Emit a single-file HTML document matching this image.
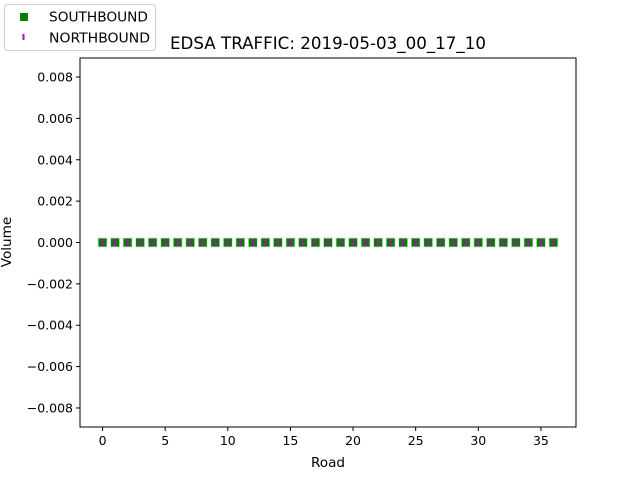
<!DOCTYPE html>
<html><head><meta charset="utf-8"><style>
body{margin:0;background:#fff;font-family:"Liberation Sans","DejaVu Sans",sans-serif}
</style></head><body>
<svg id="chart" width="640" height="480" xmlns="http://www.w3.org/2000/svg" font-family="'DejaVu Sans','Liberation Sans',sans-serif">
<rect width="640" height="480" fill="#fff"/>
<text x="328" y="49" font-size="16.6" text-anchor="middle" textLength="316" lengthAdjust="spacingAndGlyphs">EDSA TRAFFIC: 2019-05-03_00_17_10</text>
<g id="ticks"></g>
<g id="marks"></g>
<rect x="80" y="58" width="496" height="369" fill="none" stroke="#000" stroke-width="1"/>
<text x="328" y="467" font-size="13.6" text-anchor="middle">Road</text>
<text transform="translate(11,242) rotate(-90)" font-size="13.6" text-anchor="middle">Volume</text>
<g>
<rect x="4.5" y="4.5" width="151" height="46" rx="3" fill="#fff" stroke="#ccc"/>
<rect x="20" y="13" width="8" height="8" fill="#008000"/>
<text x="49" y="21.5" font-size="13.6" textLength="99" lengthAdjust="spacingAndGlyphs">SOUTHBOUND</text>
<rect x="22.5" y="34" width="2" height="6" fill="#bf00bf"/>
<text x="49" y="42.5" font-size="13.6" textLength="101" lengthAdjust="spacingAndGlyphs">NORTHBOUND</text>
</g>
</svg>
<script>
const roads = Array.from({length:37},(_,i)=>i);
const southbound = [0,0,0,0,0,0,0,0,0,0,0,0,0,0,0,0,0,0,0,0,0,0,0,0,0,0,0,0,0,0,0,0,0,0,0,0,0];
const northbound = [0,0,0,0,0,0,0,0,0,0,0,0,0,0,0,0,0,0,0,0,0,0,0,0,0,0,0,0,0,0,0,0,0,0,0,0,0];
const xTicks = [0,5,10,15,20,25,30,35];
const yTicks = [-0.008,-0.006,-0.004,-0.002,0,0.002,0.004,0.006,0.008];
const NS="http://www.w3.org/2000/svg";
const L=80,R=576,T=58,B=427;
const xMin=-1.8,xMax=37.8,yMin=-0.00892,yMax=0.00892;
const xs=v=>L+(v-xMin)/(xMax-xMin)*(R-L);
const ys=v=>B-(v-yMin)/(yMax-yMin)*(B-T);
function mk(tag,a,p){const e=document.createElementNS(NS,tag);for(const k in a)e.setAttribute(k,a[k]);p.appendChild(e);return e;}
const tg=document.getElementById('ticks');
xTicks.forEach(v=>{
 const x=xs(v);
 const l=mk('line',{x1:x,x2:x,y1:B,y2:B+4,stroke:'#000'},tg);
 
 
 const t=mk('text',{x:x,y:B+18,'font-size':12.5,'text-anchor':'middle'},tg);
 
 
 t.textContent=v;
});
yTicks.forEach(v=>{
 const y=ys(v);
 const l=mk('line',{x1:L-4,x2:L,y1:y,y2:y,stroke:'#000'},tg);
 
 
 const t=mk('text',{x:L-7,y:y+4.5,'font-size':12.5,'text-anchor':'end'},tg);
 
 
 t.textContent=(v<0?'\u2212':'')+Math.abs(v).toFixed(3);
});
const mg=document.getElementById('marks');
roads.forEach((r,i)=>{
 const x=xs(r),y=ys(southbound[i]);
 const s=mk('rect',{x:x-4.5,y:y-4.5,width:9,height:9,fill:'#008000',stroke:'#cfe7cf','stroke-width':0.8},mg);
 
 
});
roads.forEach((r,i)=>{
 const x=xs(r),y=ys(northbound[i]);
 const n=mk('rect',{x:x-1,y:y-3.5,width:2,height:7,fill:'#bf00bf'},mg);
 
 
});
</script>
</body></html>
